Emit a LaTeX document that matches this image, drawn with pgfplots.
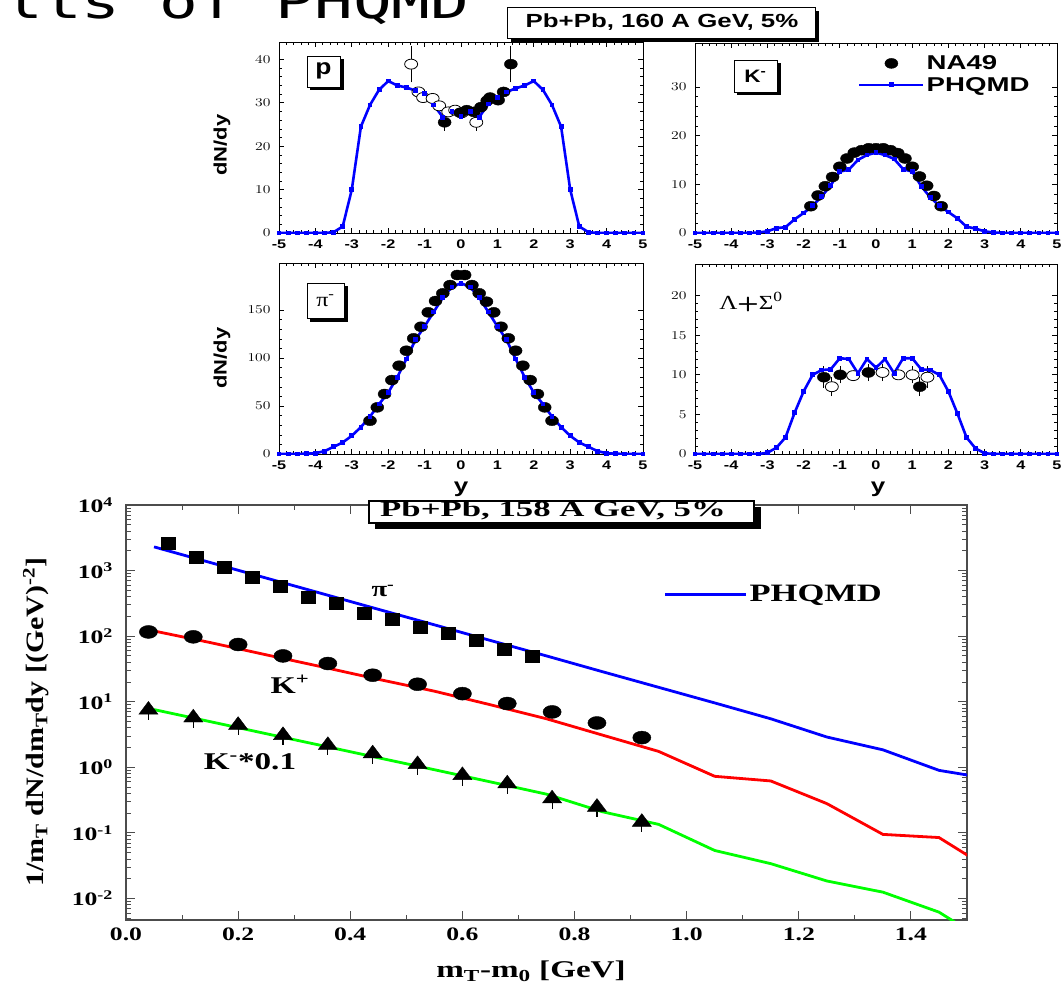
\documentclass[border=0pt]{standalone}
\usepackage{pgfplots}
\pgfplotsset{compat=1.18}
\usepackage{graphicx}
\usepackage{fontspec}
\setmainfont{Liberation Sans}
\newfontfamily\serifb{Liberation Serif}
\newfontfamily\monof{DejaVu Sans Mono}
\newcommand\sx[2]{\scalebox{#1}[1]{#2}}

\pgfplotsset{
  panel/.style={
    scale only axis, anchor=south west,
    xmin=-5, xmax=5,
    xtick={-5,-4,...,5},
    xticklabels={-5,-4,-3,-2,-1,0,1,2,3,4,5},
    minor x tick num=4, minor y tick num=4,
    tick align=inside,
    major tick length=5pt, minor tick length=3pt,
    every tick/.style={black, line width=0.7pt},
    every minor tick/.style={black, line width=0.6pt},
    axis line style={black, line width=0.9pt},
    tick label style={font=\bfseries\fontsize{12.5}{12.5}\selectfont, xscale=1.3},
    xticklabel style={yshift=-3pt},
    yticklabel style={xshift=-3pt},
    yticklabel={\pgfmathprintnumber{\tick}},
    legend image code/.code={\draw[mark repeat=2,mark phase=2,##1] plot coordinates {(0pt,0pt) (32pt,0pt) (64pt,0pt)};},
  },
  model/.style={blue, line width=2.6pt, mark=square*, mark size=1.1pt, mark options={solid}},
  full/.style={only marks, mark=*, mark size=5pt, mark options={xscale=1.3, fill=black, draw=black}},
  open/.style={only marks, mark=*, mark size=5pt, mark options={xscale=1.3, fill=white, draw=black, line width=0.8pt}},
  errs/.style={error bars/.cd, y dir=both, y explicit,
    error bar style={black, line width=0.8pt},
    error mark options={black, line width=0.8pt, mark size=3pt}},
}

\begin{document}
\begin{tikzpicture}

% ---------------- protons ----------------
\begin{axis}[panel, at={(279pt,-233pt)}, width=364pt, height=191pt,
  ymin=0, ymax=44, ytick={0,10,...,40}]
\addplot[open, errs] coordinates {
  (-1.37,38.9) +- (0,3.5)
  (0.42,25.5) +- (0,1.3)};
\addplot[open] coordinates {
  (-1.17,32.5) (-1.04,31.2) (-0.78,31.0) (-0.60,29.3) (-0.35,27.9)
  (-0.16,28.3) (0.02,27.7)};
\addplot[full, errs] coordinates {
  (-0.45,25.5) +- (0,1.2)
  (1.37,38.9) +- (0,3.5)};
\addplot[full] coordinates {
  (-0.02,27.7) (0.16,28.3) (0.35,27.9) (0.55,29.0) (0.72,30.5)
  (0.80,31.2) (1.02,30.6) (1.17,32.5)};
\addplot[model] coordinates {
  (-5,0) (-4.75,0) (-4.5,0) (-4.25,0) (-4,0) (-3.75,0) (-3.5,0.2) (-3.25,1.5)
  (-3,10) (-2.75,24.5) (-2.5,29.5) (-2.25,33) (-2,35) (-1.75,34) (-1.5,33.5)
  (-1.25,32.8) (-1,32.1) (-0.75,29.5) (-0.5,26.7) (-0.25,27.9) (0,26.8)
  (0.25,27.9) (0.5,26.7) (0.75,29.7) (1,31.3) (1.25,32.5) (1.5,33.3)
  (1.75,34) (2,35) (2.25,33) (2.5,29.5) (2.75,24.5) (3,10) (3.25,1.5)
  (3.5,0.2) (3.75,0) (4,0) (4.25,0) (4.5,0) (4.75,0) (5,0)};
\end{axis}

% ---------------- negative kaons ----------------
\begin{axis}[panel, at={(695pt,-233pt)}, width=362pt, height=190pt,
  ymin=0, ymax=39, ytick={0,10,...,30},
  legend style={draw=none, fill=none, at={(axis description cs:0.45,0.945)},
    anchor=north west, inner sep=0pt, row sep=2pt,
    font=\bfseries\fontsize{20}{20}\selectfont},
  legend cell align=left]
\addplot[full] coordinates {
  (-1.8,5.5) (-1.6,7.7) (-1.4,9.6) (-1.2,11.5) (-1.0,13.6) (-0.8,15.3)
  (-0.6,16.5) (-0.4,17.0) (-0.2,17.4) (0,17.4) (0.2,17.4) (0.4,17.0)
  (0.6,16.4) (0.8,15.3) (1.0,13.6) (1.2,11.6) (1.4,9.7) (1.6,7.6) (1.8,5.5)};
\addlegendentry{\sx{1.38}{NA49}}
\addplot[model] coordinates {
  (-5,0) (-4.75,0) (-4.5,0) (-4.25,0) (-4,0) (-3.75,0) (-3.5,0) (-3.25,0.1)
  (-3,0.35) (-2.75,1.0) (-2.5,1.2) (-2.25,2.8) (-2,4.1) (-1.75,5.6)
  (-1.5,7.5) (-1.25,9.8) (-1,12.6) (-0.75,13.0) (-0.5,15.0) (-0.25,16.0)
  (0,16.5) (0.25,16.0) (0.5,15.2) (0.75,13.1) (1,12.6) (1.25,9.6) (1.5,7.3)
  (1.75,5.6) (2,4.3) (2.25,3.0) (2.5,1.3) (2.75,0.9) (3,0.35) (3.25,0.1)
  (3.5,0) (3.75,0) (4,0) (4.25,0) (4.5,0) (4.75,0) (5,0)};
\addlegendentry{\sx{1.38}{PHQMD}}
\end{axis}

% ---------------- negative pions ----------------
\begin{axis}[panel, at={(279pt,-454pt)}, width=364pt, height=191pt,
  ymin=0, ymax=199, ytick={0,50,...,150}]
\addplot[full] coordinates {
  (-2.5,34.7) (-2.3,48.6) (-2.1,62.5) (-1.9,77) (-1.7,92) (-1.5,107.6)
  (-1.3,120.5) (-1.1,132.6) (-0.9,147.6) (-0.7,159.4) (-0.5,167.4)
  (-0.3,176) (-0.1,186.5) (0.1,186.5) (0.3,176) (0.5,167.4) (0.7,158.7)
  (0.9,147.6) (1.1,132.6) (1.3,120.5) (1.5,107.6) (1.7,92) (1.9,77)
  (2.1,62.5) (2.3,48.6) (2.5,34.7)};
\addplot[model] coordinates {
  (-5,0) (-4.75,0) (-4.5,0.1) (-4.25,0.3) (-4,0.8) (-3.75,3) (-3.5,7.5)
  (-3.25,12) (-3,19) (-2.75,28) (-2.5,39) (-2.25,52) (-2,64) (-1.75,80)
  (-1.5,99) (-1.25,119) (-1,133) (-0.75,148) (-0.5,163) (-0.25,174) (0,178)
  (0.25,174) (0.5,163) (0.75,148) (1,133) (1.25,119) (1.5,99) (1.75,80)
  (2,64) (2.25,52) (2.5,39) (2.75,28) (3,19) (3.25,12) (3.5,7.5) (3.75,3)
  (4,0.8) (4.25,0.3) (4.5,0.1) (4.75,0) (5,0)};
\end{axis}

% ---------------- Lambda + Sigma0 ----------------
\begin{axis}[panel, at={(695pt,-454pt)}, width=362pt, height=190pt,
  ymin=0, ymax=24, ytick={0,5,...,20}]
\addplot[open, errs] coordinates {
  (-1.22,8.5) +- (0,0.8)
  (0.18,10.3) +- (0,0.7)
  (1.01,10.0) +- (0,0.7)
  (1.42,9.7) +- (0,1.0)};
\addplot[open] coordinates {(-0.63,9.9) (0.62,10.0)};
\addplot[full, errs] coordinates {
  (-1.44,9.7) +- (0,1.0)
  (-0.99,10.0) +- (0,0.7)
  (-0.21,10.3) +- (0,0.7)
  (1.21,8.5) +- (0,0.8)};
\addplot[model] coordinates {
  (-5,0) (-4.75,0) (-4.5,0) (-4.25,0) (-4,0) (-3.75,0) (-3.5,0) (-3.25,0)
  (-3,0.15) (-2.75,0.8) (-2.5,2.1) (-2.25,5.2) (-2,7.9) (-1.75,10) (-1.5,10.6)
  (-1.25,10.7) (-1,12.1) (-0.75,12.0) (-0.5,10.2) (-0.25,12.0) (0,10.9)
  (0.25,12.0) (0.5,10.2) (0.75,12.1) (1,12.1) (1.25,10.7) (1.5,10.6)
  (1.75,10) (2,7.9) (2.25,5.1) (2.5,2.1) (2.75,0.7) (3,0.1) (3.25,0)
  (3.5,0) (3.75,0) (4,0) (4.25,0) (4.5,0) (4.75,0) (5,0)};
\end{axis}

% ---------------- transverse mass spectra ----------------
\begin{axis}[at={(126pt,-920pt)}, anchor=south west, scale only axis,
  width=841pt, height=415pt,
  xmin=0, xmax=1.5, ymode=log, ymin=0.0047, ymax=1e4,
  xtick={0,0.2,0.4,0.6,0.8,1.0,1.2,1.4},
  xticklabels={0.0,0.2,0.4,0.6,0.8,1.0,1.2,1.4},
  minor xtick={0.1,0.3,0.5,0.7,0.9,1.1,1.3},
  ytick={1e-2,1e-1,1,1e1,1e2,1e3,1e4},
  yticklabels={10\textsuperscript{-2},10\textsuperscript{-1},10\textsuperscript{0},10\textsuperscript{1},10\textsuperscript{2},10\textsuperscript{3},10\textsuperscript{4}},
  minor ytick={0.005,0.006,0.007,0.008,0.009,0.02,0.03,0.04,0.05,0.06,0.07,0.08,0.09,
    0.2,0.3,0.4,0.5,0.6,0.7,0.8,0.9,2,3,4,5,6,7,8,9,20,30,40,50,60,70,80,90,
    200,300,400,500,600,700,800,900,2000,3000,4000,5000,6000,7000,8000,9000},
  tick align=inside, major tick length=9pt, minor tick length=5pt,
  every tick/.style={black!70, line width=1pt},
  every minor tick/.style={black!70, line width=0.9pt},
  axis line style={black!70, line width=1.4pt},
  tick label style={font=\serifb\bfseries\fontsize{19}{19}\selectfont, xscale=1.35},
  xticklabel style={yshift=-4pt},
  yticklabel style={xshift=-6pt},
  legend style={draw=none, fill=none, at={(axis description cs:0.639,0.785)},
    anchor=west, inner sep=0pt,
    font=\serifb\bfseries\fontsize{25}{25}\selectfont},
  legend image code/.code={\draw[#1, line width=3pt] (0pt,0pt) -- (81pt,0pt);},
  ]
\addplot[only marks, mark=square*, mark size=6pt, mark options={xscale=1.2, black}, forget plot] coordinates {
  (0.075,2660) (0.125,1590) (0.175,1120) (0.225,787) (0.275,580) (0.325,398)
  (0.375,316) (0.425,227) (0.475,180) (0.525,139) (0.575,110) (0.625,87)
  (0.675,62.7) (0.725,49.5)};
\addplot[only marks, mark=*, mark size=6.5pt, mark options={xscale=1.4, black}, forget plot] coordinates {
  (0.04,116) (0.12,97.7) (0.20,74.7) (0.28,50) (0.36,38.3) (0.44,25.4)
  (0.52,18.5) (0.60,13.3) (0.68,9.4) (0.76,7.0) (0.84,4.75) (0.92,2.84)};
\addplot[only marks, mark=triangle*, mark size=8.5pt, mark options={xscale=1.3, black}, forget plot,
  error bars/.cd, y dir=both, y explicit relative,
  error bar style={black, line width=1.1pt}, error mark=none] coordinates {
  (0.04,7.5) +- (0,0.3) (0.12,5.7) +- (0,0.3) (0.20,4.4) +- (0,0.3)
  (0.28,3.08) +- (0,0.3) (0.36,2.17) +- (0,0.3) (0.44,1.62) +- (0,0.3)
  (0.52,1.11) +- (0,0.3) (0.60,0.755) +- (0,0.3) (0.68,0.563) +- (0,0.3)
  (0.76,0.333) +- (0,0.3) (0.84,0.248) +- (0,0.3) (0.92,0.146) +- (0,0.3)};
\addplot[blue, line width=2.8pt] coordinates {
  (0.05,2300) (0.15,1330) (0.25,770) (0.35,445) (0.45,257) (0.55,149)
  (0.65,86) (0.75,50) (0.85,28.7) (0.95,16.6) (1.05,9.6) (1.15,5.5)
  (1.25,2.9) (1.35,1.85) (1.45,0.9) (1.55,0.65)};
\addlegendentry{\sx{1.38}{PHQMD}}
\addplot[red, line width=2.8pt, forget plot] coordinates {
  (0.05,120) (0.15,80) (0.25,52) (0.35,34) (0.45,22) (0.55,14.5) (0.65,9)
  (0.75,5.5) (0.85,3.1) (0.95,1.75) (1.05,0.73) (1.15,0.62) (1.25,0.28)
  (1.35,0.095) (1.45,0.085) (1.55,0.025)};
\addplot[green, line width=2.8pt, forget plot] coordinates {
  (0.05,7.6) (0.15,4.98) (0.25,3.26) (0.35,2.14) (0.45,1.40) (0.55,0.92)
  (0.65,0.60) (0.75,0.39) (0.85,0.21) (0.95,0.135) (1.05,0.054) (1.15,0.034)
  (1.25,0.0185) (1.35,0.0125) (1.45,0.0062) (1.55,0.0018)};
\end{axis}

% ---------------- annotations ----------------
\node[font=\monof\fontsize{47}{47}\selectfont, anchor=base west, inner sep=0pt]
  at (-151pt,-18pt) {\sx{1.37}{Results of PHQMD}};

% header of the rapidity panels
\fill[black] (511pt,-11pt) rectangle (819pt,-42pt);
\draw[black, line width=1pt, fill=white] (507pt,-7pt) rectangle (815pt,-38pt);
\node[font=\bfseries\fontsize{19}{19}\selectfont] at (662pt,-22.5pt) {\sx{1.36}{Pb+Pb, 160 A GeV, 5\%}};

% panel tags
\fill[black] (310pt,-59pt) rectangle (344pt,-90pt);
\draw[black, line width=1pt, fill=white] (307pt,-56pt) rectangle (340pt,-87pt);
\node[font=\bfseries\fontsize{22}{22}\selectfont] at (323.5pt,-71pt) {\sx{1.2}{p}};

\fill[black] (737pt,-63pt) rectangle (781pt,-95pt);
\draw[black, line width=1pt, fill=white] (734pt,-60pt) rectangle (777pt,-92pt);
\node[font=\bfseries\fontsize{18}{18}\selectfont] at (755.5pt,-76pt) {\sx{1.25}{K\textsuperscript{-}}};

\fill[black] (310pt,-286pt) rectangle (348pt,-322pt);
\draw[black, line width=1pt, fill=white] (307pt,-283pt) rectangle (344pt,-318pt);
\node[font=\serifb\fontsize{20}{20}\selectfont] at (325.5pt,-300.5pt) {\sx{1.2}{π\textsuperscript{-}}};

\node[font=\serifb\fontsize{20}{20}\selectfont] at (751pt,-302pt) {\sx{1.25}{Λ\textbf{\sffamily +}Σ\textsuperscript{0}}};

% axis titles of the rapidity panels
\node[font=\bfseries\fontsize{18}{18}\selectfont, rotate=90] at (222pt,-145pt) {\sx{1.22}{dN/dy}};
\node[font=\bfseries\fontsize{18}{18}\selectfont, rotate=90] at (222pt,-358pt) {\sx{1.22}{dN/dy}};

% header of the spectra panel
\fill[black] (375pt,-507pt) rectangle (761pt,-529pt);
\draw[black, line width=1.2pt, fill=white] (369pt,-501pt) rectangle (754pt,-523pt);
\node[font=\serifb\bfseries\fontsize{22}{22}\selectfont] at (553pt,-511pt) {\sx{1.58}{Pb+Pb, 158 A GeV, 5\%}};

\node[font=\bfseries\fontsize{20}{20}\selectfont] at (461pt,-489pt) {\sx{1.3}{y}};
\node[font=\bfseries\fontsize{20}{20}\selectfont] at (878pt,-489pt) {\sx{1.3}{y}};

% species tags and axis titles of the spectra panel
\node[font=\serifb\bfseries\fontsize{22}{22}\selectfont] at (383pt,-591pt) {\sx{1.3}{π\textsuperscript{-}}};
\node[font=\serifb\bfseries\fontsize{24}{24}\selectfont] at (290pt,-684pt) {\sx{1.35}{K\textsuperscript{+}}};
\node[font=\serifb\bfseries\fontsize{24}{24}\selectfont] at (250pt,-762pt) {\sx{1.38}{K\textsuperscript{-}*0.1}};
\node[font=\serifb\bfseries\fontsize{24}{24}\selectfont] at (531pt,-971pt) {\sx{1.38}{m\textsubscript{T}-m\textsubscript{0} [GeV]}};
\node[font=\serifb\bfseries\fontsize{25}{25}\selectfont, rotate=90] at (36pt,-722pt) {\sx{1.2}{1/m\textsubscript{T} dN/dm\textsubscript{T}dy [(GeV)\textsuperscript{-2}]}};

\pgfresetboundingbox
\path[use as bounding box] (0pt,0pt) rectangle (1063pt,-988pt);
\end{tikzpicture}
\end{document}
